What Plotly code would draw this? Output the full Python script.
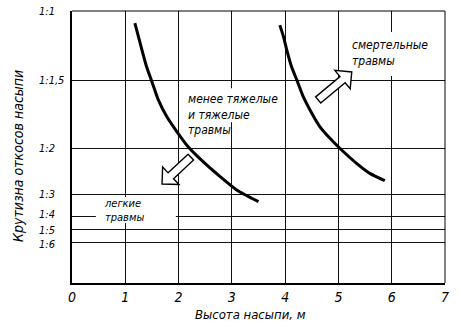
import math
import plotly.graph_objects as go

# Horizontal axis: embankment height, m
height_ticks = [0, 1, 2, 3, 4, 5, 6, 7]

# Vertical axis: slope steepness, positions measured down from 1:1
slope_labels = ["1:1", "1:1,5", "1:2", "1:3", "1:4", "1:5", "1:6"]
slope_levels = [0.0, 0.254, 0.504, 0.673, 0.757, 0.803, 0.851]

# Boundary between light and moderate/severe injuries
lower_h = [1.18, 1.28, 1.40, 1.50, 1.62, 1.78, 1.97, 2.18, 2.46, 2.78, 3.09, 3.50]
lower_s = [0.045, 0.119, 0.205, 0.260, 0.327, 0.389, 0.444, 0.499, 0.554, 0.609, 0.658, 0.701]

# Boundary between severe and fatal injuries
upper_h = [3.90, 3.97, 4.03, 4.12, 4.22, 4.34, 4.50, 4.65, 4.84, 5.06, 5.34, 5.59, 5.87]
upper_s = [0.052, 0.095, 0.143, 0.205, 0.254, 0.315, 0.376, 0.425, 0.468, 0.511, 0.560, 0.597, 0.624]

# Zone labels: left edge (height) and vertical centre (slope position)
zone_labels = ["менее тяжелые<br>и тяжелые<br>травмы",
               "смертельные<br>травмы",
               "легкие<br>травмы"]
zone_h = [2.14, 5.22, 0.56]
zone_s = [0.381, 0.154, 0.732]
zone_size = [12, 12, 11]

# Direction arrows (tail -> tip)
arrow_tail_h = [2.23, 4.62]
arrow_tail_s = [0.537, 0.327]
arrow_tip_h = [1.69, 5.25]
arrow_tip_s = [0.636, 0.224]

W, H = 459, 334
ML, MR, MT, MB = 72, 14, 11, 51
PW, PH = W - ML - MR, H - MT - MB
PX_X = PW / (height_ticks[-1] - height_ticks[0])
PX_Y = PH / 1.0

FONT = "DejaVu Sans Condensed, Liberation Sans Narrow, sans-serif"


def block_arrow(th, ts, hh, hs, shaft=4.0, head=12.0):
    """Outlined block arrow built in screen pixels, returned in data units."""
    tx, ty = th * PX_X, ts * PX_Y
    hx, hy = hh * PX_X, hs * PX_Y
    dx, dy = hx - tx, hy - ty
    n = math.hypot(dx, dy)
    ux, uy = dx / n, dy / n
    px, py = -uy, ux
    bx, by = hx - ux * head, hy - uy * head
    pts = [
        (tx + px * shaft, ty + py * shaft),
        (bx + px * shaft, by + py * shaft),
        (bx + px * head, by + py * head),
        (hx, hy),
        (bx - px * head, by - py * head),
        (bx - px * shaft, by - py * shaft),
        (tx - px * shaft, ty - py * shaft),
    ]
    return "M " + " L ".join(f"{x / PX_X:.4f},{y / PX_Y:.4f}" for x, y in pts) + " Z"


fig = go.Figure()

for hv, sv in ((lower_h, lower_s), (upper_h, upper_s)):
    fig.add_trace(go.Scatter(
        x=hv, y=sv, mode="lines",
        line=dict(color="black", width=3, shape="spline", smoothing=0.6),
        hoverinfo="skip", showlegend=False,
    ))

shapes = []
# White backing behind zone labels (hides the grid, stays under the curves)
# (top offset px from label centre, width px, height px)
backings = [(26.5, 102, 34), (21, 90, 44), (13, 80, 26)]
for h0, s0, (top, wpx, hpx) in zip(zone_h, zone_s, backings):
    x0 = h0 - 6 / PX_X
    y0 = s0 - top / PX_Y
    shapes.append(dict(
        type="rect", xref="x", yref="y", layer="between",
        x0=x0, x1=x0 + wpx / PX_X, y0=y0, y1=y0 + hpx / PX_Y,
        fillcolor="white", line=dict(width=0),
    ))

for th, ts, hh, hs in zip(arrow_tail_h, arrow_tail_s, arrow_tip_h, arrow_tip_s):
    shapes.append(dict(
        type="path", xref="x", yref="y", layer="above",
        path=block_arrow(th, ts, hh, hs),
        fillcolor="white", line=dict(color="black", width=1.4),
    ))

# Thin top and right frame
shapes.append(dict(type="line", xref="paper", yref="paper", x0=0, x1=1, y0=1, y1=1,
                   line=dict(color="black", width=1)))
shapes.append(dict(type="line", xref="paper", yref="paper", x0=1, x1=1, y0=0, y1=1,
                   line=dict(color="black", width=1)))

annotations = []
for txt, h, s, fs in zip(zone_labels, zone_h, zone_s, zone_size):
    annotations.append(dict(
        x=h, y=s, xref="x", yref="y", text=txt, showarrow=False,
        xanchor="left", yanchor="middle", align="left",
        font=dict(family=FONT, size=fs, color="black", style="italic"),
    ))

# Slope labels, nudged apart where the levels crowd together
label_shift = [0, 0, 0, 0, 2, -1, -2]
for lab, s, sh in zip(slope_labels, slope_levels, label_shift):
    annotations.append(dict(
        x=-(ML - 37) / PW, y=s, xref="paper", yref="y", text=lab, showarrow=False,
        xanchor="left", yanchor="middle", yshift=sh,
        font=dict(family=FONT, size=11, color="black", style="italic"),
    ))

annotations.append(dict(
    x=(250 - ML) / PW, y=-(314 - MT - PH) / PH, xref="paper", yref="paper",
    text="Высота насыпи, м", showarrow=False, xanchor="center", yanchor="middle",
    font=dict(family=FONT, size=13, color="black", style="italic"),
))
annotations.append(dict(
    x=(18 - ML) / PW, y=1 - (156 - MT) / PH, xref="paper", yref="paper",
    text="Крутизна откосов насыпи", showarrow=False, textangle=-90,
    xanchor="center", yanchor="middle",
    font=dict(family=FONT, size=14, color="black", style="italic"),
))

fig.update_layout(
    width=W, height=H,
    margin=dict(l=ML, r=MR, t=MT, b=MB),
    paper_bgcolor="white", plot_bgcolor="white",
    showlegend=False,
    shapes=shapes,
    annotations=annotations,
    xaxis=dict(
        range=[height_ticks[0], height_ticks[-1]],
        tickvals=height_ticks, ticktext=[str(v) for v in height_ticks],
        showgrid=True, gridcolor="#111", gridwidth=1,
        zeroline=False, showline=True, linecolor="black", linewidth=2,
        ticks="", ticklabelstandoff=0,
        tickfont=dict(family=FONT, size=14, color="black", style="italic"),
        fixedrange=True,
    ),
    yaxis=dict(
        range=[1, 0],
        tickvals=slope_levels, showticklabels=False,
        showgrid=True, gridcolor="#111", gridwidth=1,
        zeroline=False, showline=True, linecolor="black", linewidth=2,
        ticks="", fixedrange=True,
    ),
)

fig.write_html("out.html")
